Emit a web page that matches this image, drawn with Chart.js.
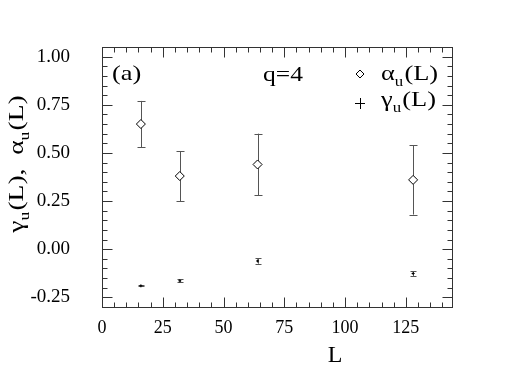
<!DOCTYPE html>
<html>
<head>
<meta charset="utf-8">
<script src="https://cdn.jsdelivr.net/npm/chart.js@4/dist/chart.umd.min.js"></script>
<style>
html,body{margin:0;padding:0;background:#fff;}
#wrap{width:507px;height:392px;position:relative;}
</style>
</head>
<body>
<div id="wrap"><canvas id="c" width="507" height="392"></canvas></div>
<script>
// ---- data ----
const sizesL = [16, 32, 64, 128];
const alphaU = [0.65, 0.38, 0.44, 0.36];
const alphaErr = [0.12, 0.13, 0.16, 0.18];
const gammaU = [-0.190, -0.164, -0.061, -0.126];
const gammaErr = [0.002, 0.008, 0.014, 0.013];
const xTickValues = [0, 25, 50, 75, 100, 125];
const yTickValues = [-0.25, 0.00, 0.25, 0.50, 0.75, 1.00];
const panelLabel = "(a)";
const qLabel = "q=4";

const SERIF = '"Liberation Serif"';

function richWidth(ctx, segs, size) {
  let w = 0;
  for (const s of segs) {
    const fs = s.sub ? Math.round(size * 0.62) : size;
    ctx.font = fs + "px " + SERIF;
    w += ctx.measureText(s.t).width + (s.gap || 0);
  }
  return w;
}
function drawRich(ctx, x, y, segs, size, sx, align) {
  ctx.save();
  ctx.translate(x, y);
  ctx.scale(sx, 1);
  const total = richWidth(ctx, segs, size);
  let cx = align === "center" ? -total / 2 : (align === "right" ? -total : 0);
  ctx.textBaseline = "alphabetic";
  ctx.textAlign = "left";
  ctx.fillStyle = "#000";
  for (const s of segs) {
    const fs = s.sub ? Math.round(size * 0.62) : size;
    ctx.font = fs + "px " + SERIF;
    ctx.fillText(s.t, cx, s.sub ? size * 0.28 : 0);
    cx += ctx.measureText(s.t).width + (s.gap || 0);
  }
  ctx.restore();
}

const decor = {
  id: "decor",
  beforeDatasetsDraw(chart) {
    const ctx = chart.ctx;
    const xs = chart.scales.x, ys = chart.scales.y;
    ctx.save();
    ctx.strokeStyle = "#555";
    ctx.lineWidth = 1;
    const drawBars = (vals, errs, cap) => {
      for (let i = 0; i < sizesL.length; i++) {
        const px = Math.round(xs.getPixelForValue(sizesL[i])) + 0.5;
        const t = ys.getPixelForValue(vals[i] + errs[i]);
        const b = ys.getPixelForValue(vals[i] - errs[i]);
        ctx.beginPath();
        ctx.moveTo(px, t); ctx.lineTo(px, b);
        ctx.moveTo(px - cap, Math.round(t) + 0.5); ctx.lineTo(px + cap, Math.round(t) + 0.5);
        ctx.moveTo(px - cap, Math.round(b) + 0.5); ctx.lineTo(px + cap, Math.round(b) + 0.5);
        ctx.stroke();
      }
    };
    drawBars(alphaU, alphaErr, 4);
    drawBars(gammaU, gammaErr, 3);
    ctx.restore();
  },
  afterDraw(chart) {
    const ctx = chart.ctx;
    const a = chart.chartArea;
    const xs = chart.scales.x, ys = chart.scales.y;
    ctx.save();
    ctx.strokeStyle = "#333";
    ctx.lineWidth = 1;
    const L0 = Math.round(a.left) + 0.5, R0 = Math.round(a.right) + 0.5;
    const T0 = Math.round(a.top) + 0.5, B0 = Math.round(a.bottom) + 0.5;
    ctx.strokeRect(L0, T0, R0 - L0, B0 - T0);
    ctx.beginPath();
    for (let v = 0; v <= xs.max + 1e-9; v += 5) {
      const p = Math.round(xs.getPixelForValue(v)) + 0.5;
      const len = (v % 25 === 0) ? 10 : 5;
      ctx.moveTo(p, B0); ctx.lineTo(p, B0 - len);
      ctx.moveTo(p, T0); ctx.lineTo(p, T0 + len);
    }
    for (let k = Math.ceil(ys.min / 0.05 - 1e-6); k * 0.05 <= ys.max + 1e-9; k++) {
      const v = k * 0.05;
      const p = Math.round(ys.getPixelForValue(v)) + 0.5;
      const len = (k % 5 === 0) ? 10 : 5;
      ctx.moveTo(L0, p); ctx.lineTo(L0 + len, p);
      ctx.moveTo(R0, p); ctx.lineTo(R0 - len, p);
    }
    ctx.stroke();

    drawRich(ctx, 112, 80, [{t: panelLabel}], 22, 1.2, "left");
    drawRich(ctx, 263, 81, [{t: qLabel}], 22, 1.16, "left");

    ctx.strokeStyle = "#000";
    ctx.fillStyle = "#fff";
    ctx.beginPath();
    ctx.moveTo(360, 70); ctx.lineTo(364, 74); ctx.lineTo(360, 78); ctx.lineTo(356, 74); ctx.closePath();
    ctx.fill(); ctx.stroke();
    ctx.beginPath();
    ctx.moveTo(355, 103.5); ctx.lineTo(365, 103.5);
    ctx.moveTo(360.5, 98); ctx.lineTo(360.5, 109);
    ctx.stroke();
    drawRich(ctx, 381, 80, [{t: "\u03b1"}, {t: "u", sub: true, gap: 1}, {t: "(L)"}], 22, 1.2, "left");
    drawRich(ctx, 381, 106, [{t: "\u03b3"}, {t: "u", sub: true, gap: 1}, {t: "(L)"}], 22, 1.2, "left");

    drawRich(ctx, 335, 362, [{t: "L"}], 24, 1.0, "center");
    ctx.save();
    ctx.translate(23, 164);
    ctx.rotate(-Math.PI / 2);
    drawRich(ctx, 0, 0, [{t: "\u03b3"}, {t: "u", sub: true, gap: 1}, {t: "(L),  "}, {t: "\u03b1"}, {t: "u", sub: true, gap: 1}, {t: "(L)"}], 22, 1.25, "center");
    ctx.restore();
    ctx.restore();
  }
};

new Chart(document.getElementById("c"), {
  type: "scatter",
  data: {
    datasets: [
      {
        label: "alpha_u(L)",
        data: sizesL.map((x, i) => ({x: x, y: alphaU[i]})),
        pointStyle: "rectRot",
        pointRadius: 4.5,
        borderColor: "#000",
        backgroundColor: "#fff",
        borderWidth: 1
      },
      {
        label: "gamma_u(L)",
        data: sizesL.map((x, i) => ({x: x, y: gammaU[i]})),
        pointStyle: "cross",
        pointRadius: 1.5,
        borderColor: "#000",
        backgroundColor: "#000",
        borderWidth: 1
      }
    ]
  },
  options: {
    responsive: false,
    animation: false,
    events: [],
    layout: {padding: {left: 0, top: 47, right: 55, bottom: 0}},
    plugins: {legend: {display: false}, tooltip: {enabled: false}},
    scales: {
      x: {
        type: "linear",
        min: 0, max: 144,
        afterBuildTicks: s => { s.ticks = xTickValues.map(v => ({value: v})); },
        afterFit: s => { s.height = 85; },
        grid: {display: false, drawTicks: false},
        border: {display: false},
        ticks: {
          padding: 10,
          color: "#000",
          font: {family: SERIF, size: 18},
          callback: v => String(v)
        }
      },
      y: {
        type: "linear",
        min: -0.30, max: 1.05,
        afterBuildTicks: s => { s.ticks = yTickValues.map(v => ({value: v})); },
        afterFit: s => { s.width = 102; },
        grid: {display: false, drawTicks: false},
        border: {display: false},
        ticks: {
          padding: 32,
          color: "#000",
          font: {family: SERIF, size: 19},
          callback: v => Number(v).toFixed(2)
        }
      }
    }
  },
  plugins: [decor]
});
</script>
</body>
</html>
